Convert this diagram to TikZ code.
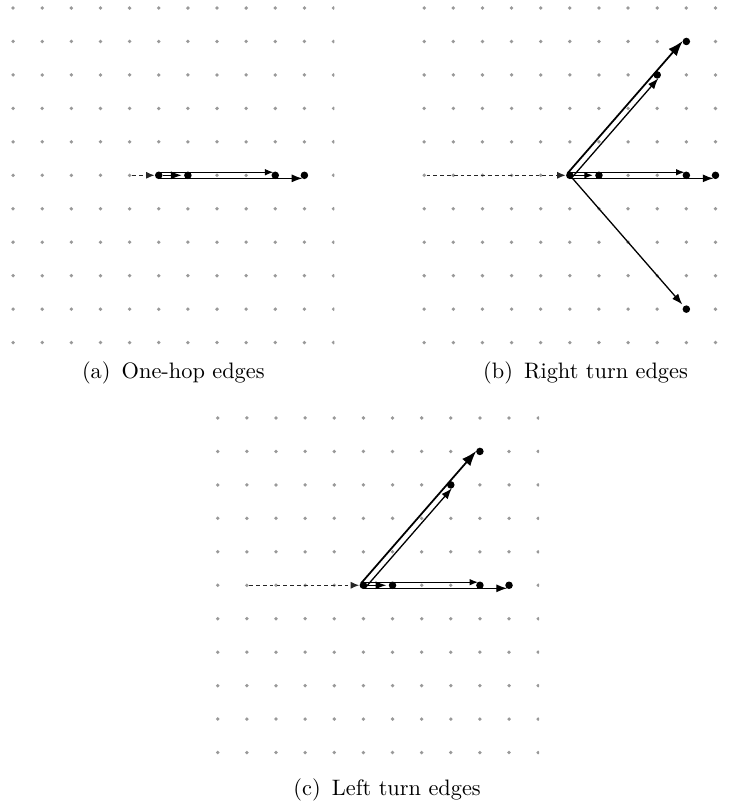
\documentclass[tikz,border=0pt]{standalone}
\usepackage{tikz}
\usetikzlibrary{arrows.meta, calc}

\begin{document}
\begin{tikzpicture}[
  gdot/.style={circle, fill=gray!80, inner sep=0pt, minimum size=1.6pt},
  vtx/.style={circle, fill=black, inner sep=0pt, minimum size=3.2pt},
  panel/.style={x=0.4353cm, y=-0.5cm},
  inedge/.style={dash pattern=on 1.6pt off 1.3pt, gray!30!black, line width=0.45pt, -{Latex[length=3.6pt, width=3pt]}},
  hop/.style={line width=0.45pt, -{Latex[length=3.6pt, width=2.8pt]}, shorten >=0.8pt},
  hopmid/.style={line width=0.55pt, -{Latex[length=4.6pt, width=3.4pt]}, shorten >=0.8pt},
  hopbig/.style={line width=0.75pt, -{Latex[length=6.5pt, width=4.6pt]}, shorten >=0.8pt},
  subcap/.style={font=\fontsize{9.5}{11}\selectfont, inner sep=0pt}
]
\useasboundingbox (0,0) rectangle (11.06,-11.97);

% (a) one-hop edges
\begin{scope}[shift={(0.1958cm,-0.1196cm)}, panel]
  \begin{scope}
    \clip (-0.5,-0.5) rectangle (11.03,10.5);
    \foreach \i in {0,...,11}
      \foreach \j in {0,...,10}
        \node[gdot] (a-\i-\j) at (\i,\j) {};
  \end{scope}
  \node[vtx] (ac) at (5,5) {};
  \node[vtx] (a1) at (6,5) {};
  \node[vtx] (a4) at (9,5) {};
  \node[vtx] (a5) at (10,5) {};
  \draw[inedge] (a-4-5) -- (ac);
  \draw[hopmid] (ac) -- (a1);
  \draw[hop] ($(ac.center)!1.3pt!90:(a4.center)$) -- ($(a4.center)!1.3pt!-90:(ac.center)$);
  \draw[hopmid] ($(ac.center)!1.3pt!-90:(a5.center)$) -- ($(a5.center)!1.3pt!90:(ac.center)$);
\end{scope}

% (b) right turn edges
\begin{scope}[shift={(6.339cm,-0.1196cm)}, panel]
  \foreach \i in {0,...,10}
    \foreach \j in {0,...,10}
      \node[gdot] (b-\i-\j) at (\i,\j) {};
  \node[vtx] (bc) at (5,5) {};
  \node[vtx] (b1) at (6,5) {};
  \node[vtx] (b4) at (9,5) {};
  \node[vtx] (b5) at (10,5) {};
  \node[vtx] (bu) at (9,1) {};
  \node[vtx] (bv) at (8,2) {};
  \node[vtx] (bd) at (9,9) {};
  \draw[inedge] (b-0-5) -- (bc);
  \draw[hop] (bc) -- (b1);
  \draw[hop] ($(bc.center)!1.3pt!90:(b4.center)$) -- ($(b4.center)!1.3pt!-90:(bc.center)$);
  \draw[hopmid] ($(bc.center)!1.3pt!-90:(b5.center)$) -- ($(b5.center)!1.3pt!90:(bc.center)$);
  \draw[hopbig] ($(bc.center)!1.3pt!90:(bu.center)$) -- ($(bu.center)!1.3pt!-90:(bc.center)$);
  \draw[hopmid] ($(bc.center)!1.3pt!-90:(bv.center)$) -- ($(bv.center)!1.3pt!90:(bc.center)$);
  \draw[hopmid] (bc) -- (bd);
\end{scope}

% (c) left turn edges
\begin{scope}[shift={(3.254cm,-6.246cm)}, panel]
  \begin{scope}
    \clip (-0.5,-0.5) rectangle (11.03,10.5);
    \foreach \i in {0,...,11}
      \foreach \j in {0,...,10}
        \node[gdot] (c-\i-\j) at (\i,\j) {};
  \end{scope}
  \node[vtx] (cc) at (5,5) {};
  \node[vtx] (c1) at (6,5) {};
  \node[vtx] (c4) at (9,5) {};
  \node[vtx] (c5) at (10,5) {};
  \node[vtx] (cu) at (9,1) {};
  \node[vtx] (cv) at (8,2) {};
  \draw[inedge] (c-1-5) -- (cc);
  \draw[hopmid] (cc) -- (c1);
  \draw[hop] ($(cc.center)!1.3pt!90:(c4.center)$) -- ($(c4.center)!1.3pt!-90:(cc.center)$);
  \draw[hopmid] ($(cc.center)!1.3pt!-90:(c5.center)$) -- ($(c5.center)!1.3pt!90:(cc.center)$);
  \draw[hopbig] ($(cc.center)!1.3pt!90:(cu.center)$) -- ($(cu.center)!1.3pt!-90:(cc.center)$);
  \draw[hopmid] ($(cc.center)!1.3pt!-90:(cv.center)$) -- ($(cv.center)!1.3pt!90:(cc.center)$);
\end{scope}

% captions
\node[subcap] (capa) at (2.59,-5.58) {(a)\hspace{0.5em}One-hop edges};
\node[subcap] (capb) at (8.75,-5.58) {(b)\hspace{0.5em}Right turn edges};
\node[subcap] (capc) at (5.785,-11.8) {(c)\hspace{0.5em}Left turn edges};
\end{tikzpicture}
\end{document}
